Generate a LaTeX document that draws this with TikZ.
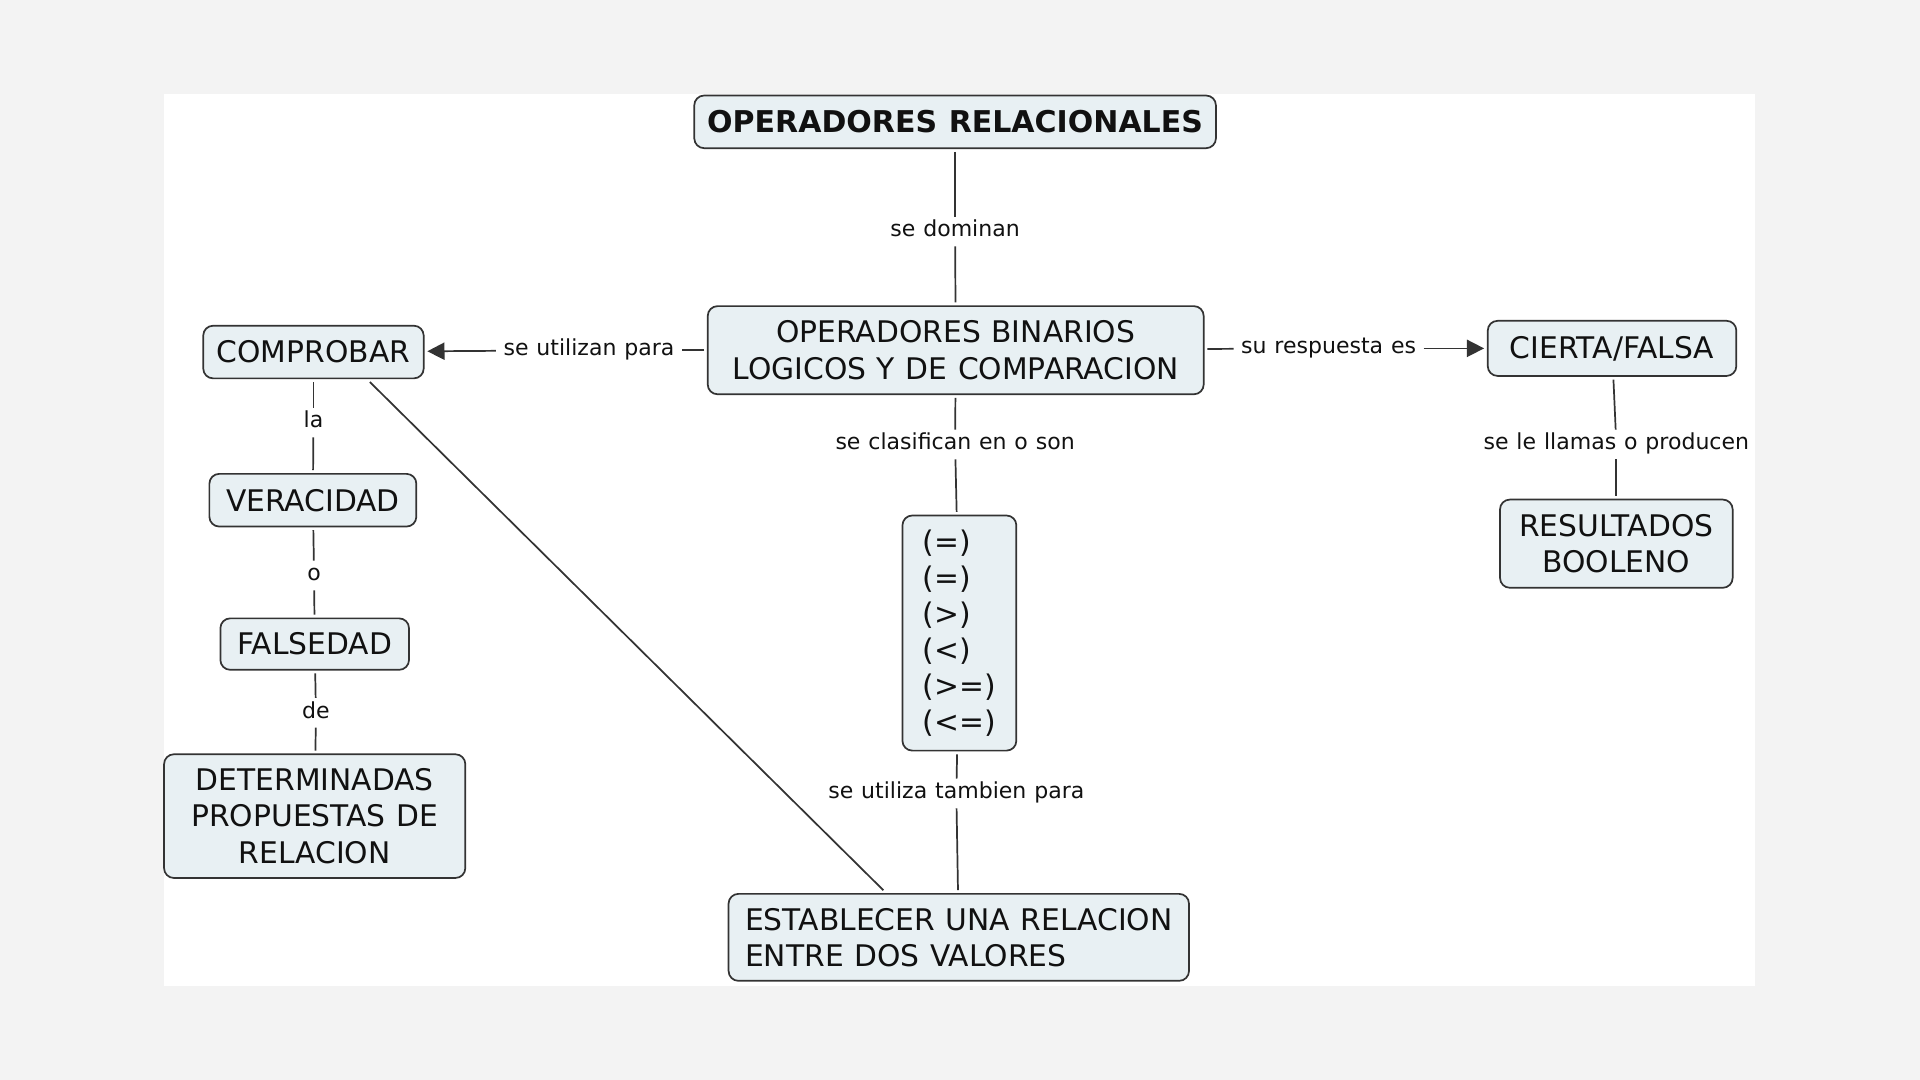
\documentclass[tikz,border=0pt]{standalone}
\usepackage{fontspec}
\setmainfont{DejaVu Sans}[WordSpace=1.12]
\usetikzlibrary{arrows.meta}
\definecolor{bgout}{HTML}{F3F3F3}
\definecolor{nodefill}{HTML}{E8F0F3}
\definecolor{nodeline}{HTML}{333333}
\definecolor{txt}{HTML}{111111}
\begin{document}
\begin{tikzpicture}[x=1pt,y=-1pt,
  concept/.style={draw=nodeline, line width=1.4pt, fill=nodefill, rounded corners=8pt,
    font=\fontsize{24.3}{29.5}\selectfont, inner sep=0pt, outer sep=3pt, text=txt},
  lbl/.style={font=\fontsize{18}{21}\selectfont, text height=13.4pt, text depth=4.5pt,
    inner xsep=6pt, inner ysep=3pt, text=txt},
  link/.style={draw=nodeline, line width=1.4pt},
  arr/.style={link, -{Triangle[length=14pt,width=14pt]}}
]
\fill[bgout] (0,0) rectangle (1568,882);
\fill[white] (134,77) rectangle (1433,805);
\useasboundingbox (0,0) rectangle (1568,882);

\node[concept, font=\fontsize{24.5}{29}\selectfont\bfseries, minimum width=426pt, minimum height=43pt] (title) at (780,99.5) {OPERADORES RELACIONALES};
\node[concept, minimum width=405pt, minimum height=72pt, align=center] (opb) at (780.5,286) {OPERADORES BINARIOS\\LOGICOS Y DE COMPARACION};
\node[concept, minimum width=180pt, minimum height=43pt] (comp) at (256,287.5) {COMPROBAR};
\node[concept, minimum width=203pt, minimum height=45pt] (cf) at (1316.5,284.5) {CIERTA/FALSA};
\node[concept, minimum width=169pt, minimum height=43pt] (ver) at (255.5,408.5) {VERACIDAD};
\node[concept, minimum width=154pt, minimum height=42pt] (fal) at (257,526) {FALSEDAD};
\node[concept, minimum width=246pt, minimum height=101pt, align=center] (det) at (257,666.5) {DETERMINADAS\\PROPUESTAS DE\\RELACION};
\node[concept, minimum width=93pt, minimum height=192pt, align=left] (ops) at (783.5,517) {(=)\\(=)\\(>)\\(<)\\(>=)\\(<=)};
\node[concept, minimum width=190pt, minimum height=72pt, align=center] (res) at (1320,444) {RESULTADOS\\BOOLENO};
\node[concept, minimum width=376pt, minimum height=71pt, align=left] (est) at (783,765.5) {ESTABLECER UNA RELACION\\ENTRE DOS VALORES};

\node[lbl] (l1) at (780,189) {se dominan};
\node[lbl] (l2) at (481,286) {se utilizan para};
\node[lbl] (l3) at (1085,284.5) {su respuesta es};
\node[lbl] (l4) at (780,363) {se clasifican en o son};
\node[lbl] (l5) at (1320,363) {se le llamas o producen};
\node[lbl] (l6) at (256,345) {la};
\node[lbl] (l7) at (256.5,470) {o};
\node[lbl] (l8) at (258,582) {de};
\node[lbl] (l9) at (781,648) {se utiliza tambien para};

\draw[link] (title) -- (l1);
\draw[link] (l1) -- (opb);
\draw[link] (opb) -- (l2);
\draw[arr] (l2) -- (comp);
\draw[link] (opb) -- (l3);
\draw[arr] (l3) -- (cf);
\draw[link] (opb) -- (l4);
\draw[link] (l4) -- (ops);
\draw[link] (cf) -- (l5);
\draw[link] (l5) -- (res);
\draw[link] (comp) -- (l6);
\draw[link] (l6) -- (ver);
\draw[link] (ver) -- (l7);
\draw[link] (l7) -- (fal);
\draw[link] (fal) -- (l8);
\draw[link] (l8) -- (det);
\draw[link] (ops) -- (l9);
\draw[link] (l9) -- (est);
\draw[link] (comp.-28) -- (est.148);
\end{tikzpicture}
\end{document}
